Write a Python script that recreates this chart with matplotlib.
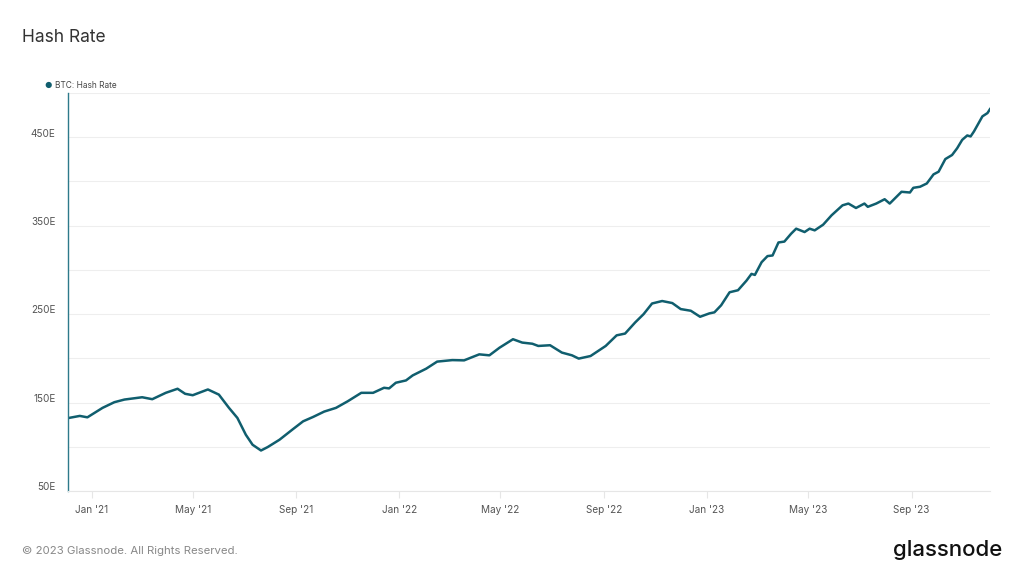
import pandas as pd
import matplotlib.pyplot as plt
import matplotlib.transforms as mtransforms

# values (EH/s), roughly every ~10 days
dates = [
    '2020-12-05', '2020-12-18', '2020-12-27', '2021-01-14', '2021-01-28', '2021-02-09',
    '2021-03-02', '2021-03-14', '2021-03-30', '2021-04-13', '2021-04-22', '2021-05-01',
    '2021-05-19', '2021-06-01', '2021-06-13', '2021-06-23', '2021-07-03', '2021-07-11',
    '2021-07-21', '2021-07-29', '2021-08-12', '2021-08-28', '2021-09-09', '2021-09-21',
    '2021-10-04', '2021-10-18', '2021-11-01', '2021-11-17', '2021-12-01', '2021-12-14',
    '2021-12-20', '2021-12-28', '2022-01-09', '2022-01-17', '2022-02-02', '2022-02-15',
    '2022-03-05', '2022-03-19', '2022-03-29', '2022-04-06', '2022-04-18', '2022-04-30',
    '2022-05-16', '2022-05-27', '2022-06-08', '2022-06-15', '2022-06-29', '2022-07-13',
    '2022-07-25', '2022-08-02', '2022-08-16', '2022-09-03', '2022-09-16', '2022-09-26',
    '2022-10-08', '2022-10-18', '2022-10-28', '2022-11-09', '2022-11-21', '2022-12-01',
    '2022-12-13', '2022-12-24', '2023-01-04', '2023-01-10', '2023-01-18', '2023-01-28',
    '2023-02-07', '2023-02-17', '2023-02-23', '2023-02-27', '2023-03-07', '2023-03-14',
    '2023-03-20', '2023-03-27', '2023-04-03', '2023-04-11', '2023-04-17', '2023-04-27',
    '2023-05-03', '2023-05-09', '2023-05-19', '2023-05-29', '2023-06-11', '2023-06-18',
    '2023-06-27', '2023-07-07', '2023-07-11', '2023-07-21', '2023-07-31', '2023-08-06',
    '2023-08-14', '2023-08-20', '2023-08-30', '2023-09-03', '2023-09-11', '2023-09-19',
    '2023-09-27', '2023-10-03', '2023-10-11', '2023-10-19', '2023-10-25', '2023-10-31',
    '2023-11-06', '2023-11-10', '2023-11-14', '2023-11-24', '2023-11-30', '2023-12-03',
]
hash_rate = [
    132.6, 134.9, 133.3, 144.0, 150.4, 153.4,
    156.0, 153.8, 161.0, 165.6, 159.9, 158.3,
    164.8, 159.0, 144.0, 132.6, 113.6, 102.3,
    95.8, 99.7, 108.0, 120.0, 128.8, 133.8,
    139.8, 144.0, 151.5, 161.0, 161.0, 166.7,
    166.0, 172.4, 175.0, 180.7, 188.3, 196.3,
    198.0, 197.7, 201.5, 204.5, 203.4, 212.0,
    221.6, 217.8, 216.5, 214.0, 214.8, 206.5,
    203.4, 199.7, 202.6, 214.0, 226.0, 228.0,
    240.6, 250.0, 262.0, 264.8, 262.5, 255.7,
    253.8, 247.0, 250.8, 252.0, 260.0, 274.7,
    277.0, 287.8, 295.5, 294.3, 308.7, 315.6,
    316.3, 331.0, 332.0, 340.9, 346.6, 342.8,
    346.6, 344.7, 351.1, 361.7, 373.0, 375.0,
    370.0, 375.0, 371.3, 375.0, 379.9, 375.0,
    382.6, 388.3, 387.5, 392.8, 394.0, 397.7,
    408.0, 411.0, 425.3, 429.9, 437.5, 447.0,
    452.0, 450.9, 456.6, 473.6, 477.3, 481.8,
]

y_ticks = [50, 100, 150, 200, 250, 300, 350, 400, 450, 500]
y_labels = ['50E', '', '150E', '', '250E', '', '350E', '', '450E', '']
x_ticks = ['2021-01-01', '2021-05-01', '2021-09-01', '2022-01-01', '2022-05-01',
           '2022-09-01', '2023-01-01', '2023-05-01', '2023-09-01']
x_labels = ["Jan '21", "May '21", "Sep '21", "Jan '22", "May '22",
            "Sep '22", "Jan '23", "May '23", "Sep '23"]

line_col = '#105e6e'

plt.rcParams['font.family'] = ['Inter', 'DejaVu Sans']

fig = plt.figure(figsize=(10.24, 5.77), dpi=100)
ax = fig.add_axes([68 / 1024, 1 - 491 / 577, 922 / 1024, 398 / 577])

ax.plot(pd.to_datetime(dates), hash_rate, color=line_col, lw=1.8, solid_joinstyle='round')

ax.set_xlim(pd.Timestamp('2020-12-04'), pd.Timestamp('2023-12-03'))
ax.set_ylim(50, 500)

ax.set_yticks(y_ticks)
ax.set_yticklabels(y_labels)
ax.set_xticks(pd.to_datetime(x_ticks))
ax.set_xticklabels(x_labels)

ax.grid(axis='y', color='#eeeeee', lw=0.8)
ax.set_axisbelow(True)
for side in ['top', 'right']:
    ax.spines[side].set_visible(False)
ax.spines['left'].set_color('#2d7a8a')
ax.spines['left'].set_linewidth(1.0)
ax.spines['bottom'].set_color('#e6e6e6')
ax.spines['bottom'].set_linewidth(0.8)

ax.tick_params(axis='y', length=0, pad=9, labelsize=7.2, labelcolor='#555555')
ax.tick_params(axis='x', length=5, width=0.8, color='#e6e6e6', pad=5,
               labelsize=7.2, labelcolor='#555555')

# y labels sit just above their gridlines
shift = mtransforms.ScaledTranslation(0, 0.5 / 72, fig.dpi_scale_trans)
for lab in ax.get_yticklabels():
    lab.set_va('baseline')
    lab.set_transform(lab.get_transform() + shift)

# title, legend, footer
fig.text(22 / 1024, 1 - 37 / 577, 'Hash Rate', fontsize=12.5, color='#333333', va='center')
fig.text(48 / 1024, 1 - 85 / 577, '\u25cf', fontsize=6, color=line_col, va='center', ha='center')
fig.text(55 / 1024, 1 - 85 / 577, 'BTC: Hash Rate', fontsize=6, color='#444444', va='center')
fig.text(22 / 1024, 1 - 551 / 577, '\u00a9 2023 Glassnode. All Rights Reserved.',
         fontsize=8.2, color='#888888', va='center')
fig.text(1002 / 1024, 1 - 550 / 577, 'glassnode', fontsize=16, color='#111111',
         va='center', ha='right', fontweight='medium')

fig.savefig('out.png', dpi=100, facecolor='white')
